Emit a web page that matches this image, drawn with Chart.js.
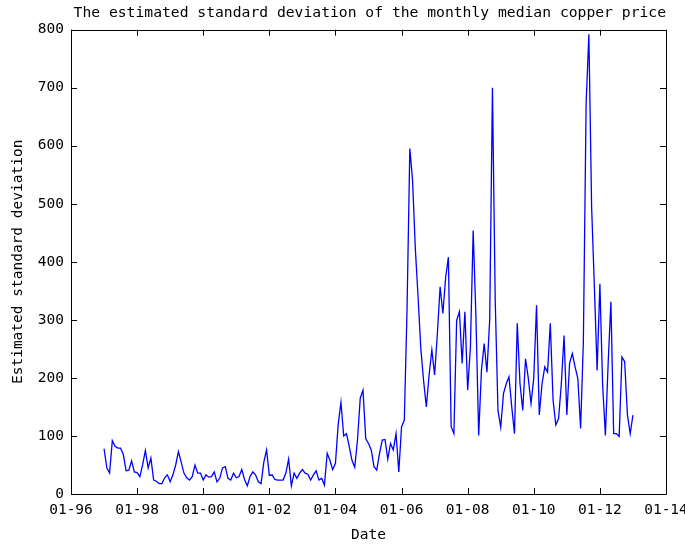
<!DOCTYPE html>
<html>
<head>
<meta charset="utf-8">
<title>Copper price standard deviation</title>
<script src="https://cdn.jsdelivr.net/npm/chart.js@4.4.1/dist/chart.umd.min.js"></script>
<style>
  html, body { margin: 0; padding: 0; background: #fff; }
  #wrap { width: 685px; height: 546px; }
</style>
</head>
<body>
<div id="wrap"><canvas id="grafico" width="685" height="546"></canvas></div>
<script>
// ==============================
// DATOS
// ==============================

// first observation: Jan 1997, counted in months from Jan 1996 (left edge of axis)
const firstMonth = 12;

// estimated standard deviation, one value per month (Jan 1997 .. Jan 2013)
const stdDev = [
  78, 45, 36, 92, 82, 79, 79, 68, 40, 41, 57, 38,            // 1997
  37, 30, 50, 75, 45, 62, 24, 22, 18, 18, 28, 33,            // 1998
  21, 33, 50, 73, 55, 36, 28, 24, 30, 50, 36, 36,            // 1999
  24, 33, 29, 30, 38, 21, 27, 45, 47, 27, 24, 36,            // 2000
  28, 30, 42, 25, 14, 30, 38, 33, 21, 18, 55, 76,            // 2001
  32, 33, 25, 24, 24, 24, 36, 60, 14, 36, 27, 36,            // 2002
  42, 36, 34, 24, 33, 40, 24, 27, 15, 70, 58, 42,            // 2003
  53, 120, 158, 100, 104, 82, 58, 46, 93, 165, 179, 95,      // 2004
  87, 76, 47, 41, 70, 93, 94, 60, 87, 76, 104, 38,           // 2005
  116, 127, 320, 595, 540, 423, 339, 250, 195, 150, 205, 248, // 2006
  205, 276, 357, 311, 373, 408, 116, 104, 299, 314, 225, 314, // 2007
  179, 253, 454, 305, 101, 213, 259, 210, 300, 700, 334, 144, // 2008
  115, 173, 190, 202, 150, 104, 294, 190, 144, 233, 200, 156, // 2009
  200, 325, 136, 190, 219, 210, 294, 162, 119, 130, 190, 273, // 2010
  136, 225, 242, 219, 199, 113, 262, 672, 792, 494, 357, 213, // 2011
  362, 187, 101, 225, 331, 104, 104, 99, 236, 228, 136, 104,  // 2012
  136                                                         // 2013
];

// x axis tick labels, one every two years
const tickLabels = ["01-96", "01-98", "01-00", "01-02", "01-04", "01-06", "01-08", "01-10", "01-12", "01-14"];

// y axis range
const yMin = 0;
const yMax = 800;
const yStep = 100;

// ==============================
// ESTILO
// ==============================
const fuente = { family: "'DejaVu Sans Mono', 'Liberation Mono', monospace", size: 14.5 };
Chart.defaults.color = "#000";

// marco estilo gnuplot con marcas hacia dentro
const marcoGnuplot = {
  id: "marcoGnuplot",
  afterDatasetsDraw(chart) {
    const { ctx, chartArea: a, scales: { x, y } } = chart;
    const largo = 6;
    ctx.save();
    ctx.strokeStyle = "#000";
    ctx.lineWidth = 1;
    ctx.beginPath();
    ctx.rect(Math.round(a.left) + 0.5, Math.round(a.top) + 0.5, Math.round(a.width), Math.round(a.height));
    x.ticks.forEach(t => {
      const px = Math.round(x.getPixelForValue(t.value)) + 0.5;
      ctx.moveTo(px, a.bottom); ctx.lineTo(px, a.bottom - largo);
      ctx.moveTo(px, a.top); ctx.lineTo(px, a.top + largo);
    });
    y.ticks.forEach(t => {
      const py = Math.round(y.getPixelForValue(t.value)) + 0.5;
      ctx.moveTo(a.left, py); ctx.lineTo(a.left + largo, py);
      ctx.moveTo(a.right, py); ctx.lineTo(a.right - largo, py);
    });
    ctx.stroke();
    ctx.restore();
  }
};

// ==============================
// GRÁFICO
// ==============================
const puntos = stdDev.map((v, i) => ({ x: firstMonth + i, y: v }));

const ctx = document.getElementById("grafico").getContext("2d");
const grafico = new Chart(ctx, {
  type: "line",
  data: {
    datasets: [{
      data: puntos,
      borderColor: "#0000ff",
      borderWidth: 1.3,
      pointRadius: 0,
      tension: 0,
      fill: false
    }]
  },
  options: {
    responsive: false,
    animation: false,
    devicePixelRatio: 1,
    layout: { padding: { top: 2, right: 19, bottom: 0, left: 6 } },
    plugins: {
      legend: { display: false },
      tooltip: { enabled: false },
      title: {
        display: true,
        align: "end",
        text: "The estimated standard deviation of the monthly median copper price",
        font: { ...fuente, size: 14.7, weight: "normal" },
        color: "#000",
        padding: { top: 2, bottom: 8 }
      }
    },
    scales: {
      x: {
        type: "linear",
        min: 0,
        max: (tickLabels.length - 1) * 24,
        grid: { display: false, drawTicks: false },
        border: { display: false },
        afterBuildTicks: s => { s.ticks = tickLabels.map((_, i) => ({ value: i * 24 })); },
        afterFit: s => { s.paddingRight = 0; s.paddingLeft = 0; s.height = 52; },
        ticks: {
          font: fuente,
          padding: 8,
          maxRotation: 0,
          autoSkip: false,
          callback: v => tickLabels[Math.round(v / 24)]
        },
        title: { display: true, text: "Date", font: fuente, padding: { top: 3, bottom: 2 } }
      },
      y: {
        min: yMin,
        max: yMax,
        grid: { display: false, drawTicks: false },
        border: { display: false },
        afterFit: s => { s.width = 65; },
        ticks: { font: fuente, stepSize: yStep, padding: 7 },
        title: { display: true, text: "Estimated standard deviation", font: fuente, padding: { top: 4, bottom: 3 } }
      }
    }
  },
  plugins: [marcoGnuplot]
});
</script>
</body>
</html>
